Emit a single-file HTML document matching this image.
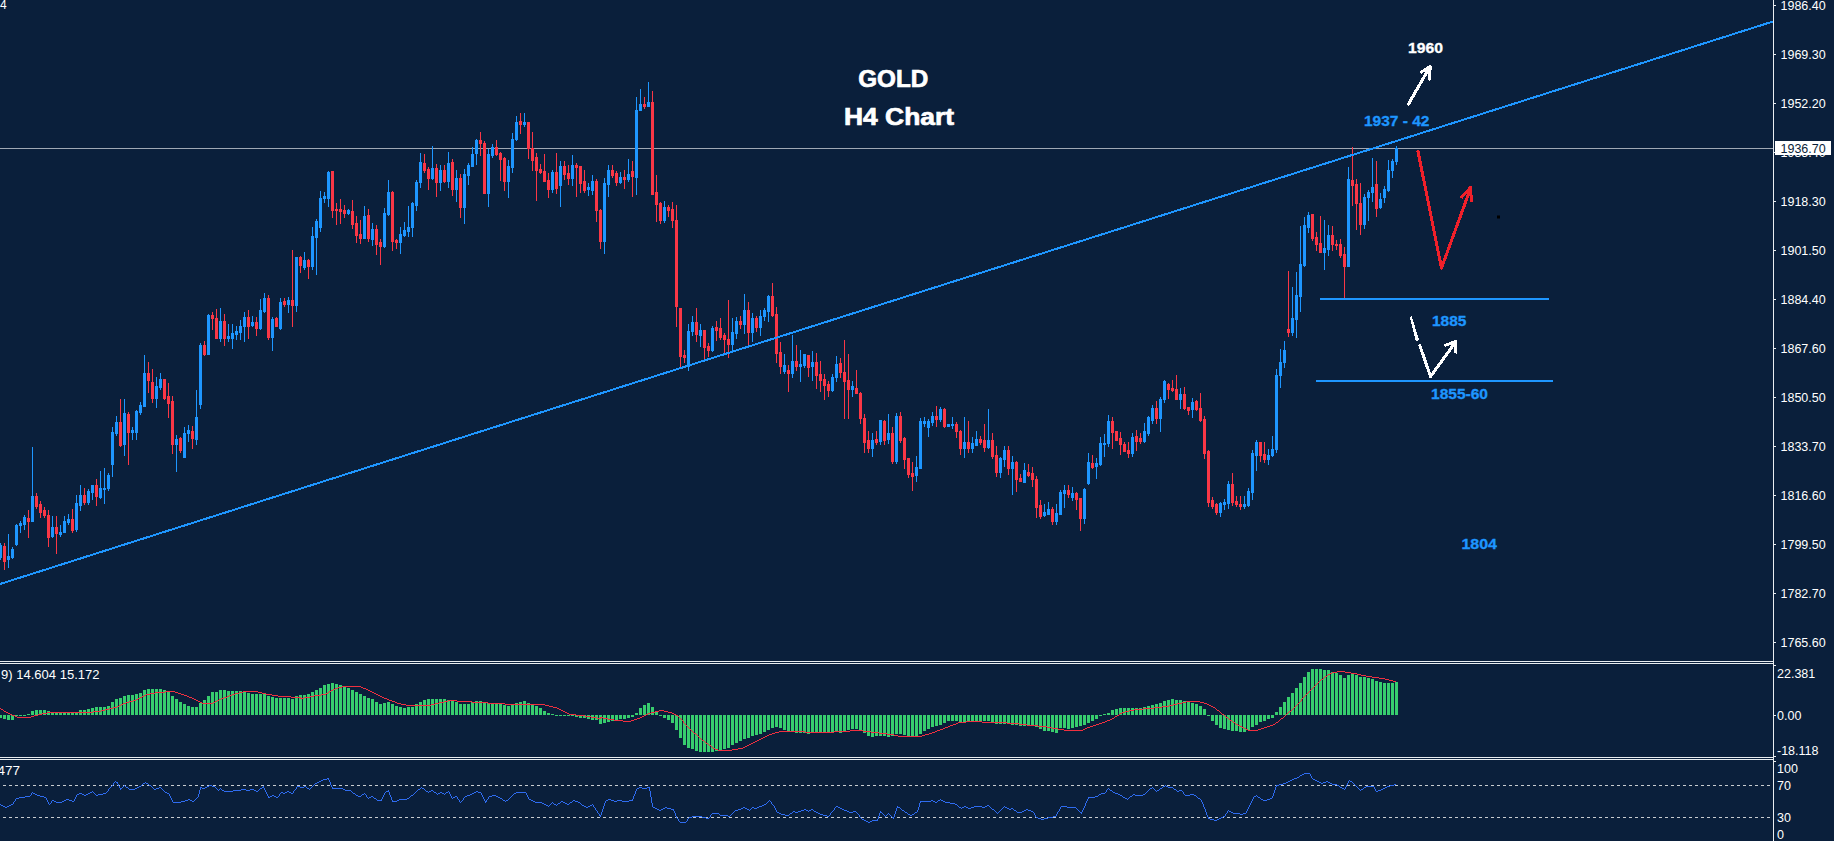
<!DOCTYPE html>
<html><head><meta charset="utf-8"><style>
html,body{margin:0;padding:0;background:#0a1f3b;width:1834px;height:841px;overflow:hidden}
svg{display:block}
text{font-family:"Liberation Sans",sans-serif}
</style></head><body>
<svg width="1834" height="841" viewBox="0 0 1834 841">
<rect width="1834" height="841" fill="#0a1f3b"/>

<rect x="0" y="148" width="1773" height="1" fill="#a0a8b4"/>
<path shape-rendering="crispEdges" fill="#1e96ff" d="M0 543h1v17h-1zM-1 545h3v13h-3zM8 534h1v34h-1zM7 556h3v4h-3zM12 547h1v12h-1zM11 549h3v9h-3zM16 524h1v22h-1zM15 525h3v20h-3zM20 521h1v12h-1zM19 523h3v3h-3zM24 515h1v15h-1zM23 517h3v8h-3zM32 447h1v75h-1zM31 496h3v26h-3zM52 516h1v22h-1zM51 527h3v10h-3zM60 525h1v12h-1zM59 532h3v3h-3zM64 516h1v17h-1zM63 521h3v12h-3zM68 514h1v11h-1zM67 519h3v4h-3zM76 495h1v37h-1zM75 503h3v27h-3zM80 485h1v26h-1zM79 495h3v11h-3zM88 489h1v16h-1zM87 491h3v12h-3zM92 485h1v15h-1zM91 485h3v8h-3zM100 471h1v28h-1zM99 488h3v10h-3zM104 468h1v36h-1zM103 488h3v2h-3zM108 473h1v18h-1zM107 475h3v14h-3zM112 427h1v50h-1zM111 432h3v33h-3zM116 416h1v20h-1zM115 422h3v12h-3zM124 399h1v57h-1zM123 413h3v32h-3zM132 427h1v13h-1zM131 430h3v3h-3zM136 410h1v30h-1zM135 411h3v22h-3zM140 402h1v13h-1zM139 405h3v8h-3zM144 355h1v52h-1zM143 373h3v34h-3zM156 377h1v31h-1zM155 386h3v13h-3zM160 373h1v17h-1zM159 379h3v9h-3zM176 435h1v37h-1zM175 439h3v6h-3zM184 427h1v31h-1zM183 433h3v25h-3zM188 425h1v17h-1zM187 430h3v4h-3zM196 390h1v55h-1zM195 417h3v23h-3zM200 343h1v66h-1zM199 345h3v60h-3zM208 314h1v41h-1zM207 315h3v40h-3zM220 308h1v34h-1zM219 321h3v18h-3zM228 324h1v18h-1zM227 336h3v3h-3zM232 324h1v25h-1zM231 333h3v6h-3zM236 326h1v14h-1zM235 331h3v4h-3zM240 320h1v20h-1zM239 326h3v7h-3zM244 312h1v30h-1zM243 317h3v10h-3zM252 316h1v11h-1zM251 322h3v4h-3zM260 299h1v31h-1zM259 310h3v19h-3zM264 293h1v20h-1zM263 298h3v14h-3zM272 317h1v34h-1zM271 319h3v19h-3zM280 298h1v32h-1zM279 302h3v27h-3zM288 297h1v16h-1zM287 300h3v5h-3zM296 257h1v55h-1zM295 257h3v49h-3zM304 252h1v18h-1zM303 260h3v8h-3zM312 227h1v43h-1zM311 236h3v31h-3zM316 219h1v56h-1zM315 221h3v17h-3zM320 191h1v41h-1zM319 198h3v30h-3zM324 192h1v11h-1zM323 196h3v3h-3zM328 171h1v36h-1zM327 172h3v27h-3zM348 209h1v6h-1zM347 210h3v4h-3zM364 206h1v33h-1zM363 216h3v23h-3zM372 223h1v23h-1zM371 229h3v11h-3zM384 208h1v40h-1zM383 213h3v34h-3zM388 180h1v36h-1zM387 192h3v23h-3zM400 227h1v27h-1zM399 234h3v9h-3zM404 222h1v15h-1zM403 230h3v6h-3zM408 206h1v31h-1zM407 227h3v5h-3zM412 202h1v35h-1zM411 203h3v25h-3zM416 180h1v31h-1zM415 182h3v24h-3zM420 153h1v35h-1zM419 162h3v21h-3zM432 146h1v34h-1zM431 168h3v11h-3zM440 165h1v26h-1zM439 170h3v13h-3zM448 152h1v36h-1zM447 163h3v19h-3zM456 170h1v32h-1zM455 178h3v12h-3zM464 169h1v55h-1zM463 174h3v34h-3zM468 163h1v22h-1zM467 165h3v11h-3zM472 147h1v20h-1zM471 154h3v13h-3zM476 139h1v26h-1zM475 140h3v14h-3zM488 149h1v58h-1zM487 154h3v40h-3zM492 144h1v14h-1zM491 147h3v9h-3zM508 160h1v38h-1zM507 166h3v16h-3zM512 133h1v40h-1zM511 139h3v29h-3zM516 116h1v25h-1zM515 122h3v18h-3zM524 113h1v14h-1zM523 122h3v3h-3zM552 170h1v23h-1zM551 172h3v18h-3zM560 161h1v46h-1zM559 166h3v20h-3zM572 155h1v31h-1zM571 165h3v14h-3zM588 183h1v13h-1zM587 187h3v3h-3zM592 175h1v20h-1zM591 181h3v10h-3zM604 178h1v76h-1zM603 183h3v59h-3zM608 165h1v32h-1zM607 170h3v15h-3zM620 172h1v12h-1zM619 177h3v6h-3zM628 159h1v23h-1zM627 174h3v6h-3zM636 97h1v98h-1zM635 110h3v68h-3zM640 89h1v22h-1zM639 104h3v7h-3zM648 82h1v25h-1zM647 102h3v5h-3zM664 201h1v22h-1zM663 207h3v14h-3zM688 324h1v47h-1zM687 331h3v36h-3zM692 316h1v20h-1zM691 322h3v10h-3zM700 324h1v23h-1zM699 330h3v6h-3zM712 326h1v26h-1zM711 328h3v23h-3zM732 318h1v33h-1zM731 332h3v13h-3zM736 317h1v22h-1zM735 321h3v13h-3zM744 294h1v40h-1zM743 310h3v15h-3zM752 313h1v29h-1zM751 318h3v15h-3zM760 310h1v26h-1zM759 316h3v12h-3zM764 308h1v13h-1zM763 310h3v7h-3zM768 295h1v27h-1zM767 296h3v16h-3zM784 354h1v20h-1zM783 365h3v7h-3zM792 335h1v43h-1zM791 361h3v13h-3zM800 350h1v32h-1zM799 364h3v3h-3zM804 354h1v14h-1zM803 354h3v12h-3zM812 351h1v30h-1zM811 362h3v5h-3zM832 374h1v18h-1zM831 377h3v14h-3zM836 356h1v26h-1zM835 364h3v14h-3zM852 381h1v16h-1zM851 386h3v4h-3zM872 433h1v24h-1zM871 440h3v9h-3zM880 420h1v25h-1zM879 420h3v22h-3zM888 414h1v30h-1zM887 433h3v7h-3zM896 413h1v51h-1zM895 416h3v46h-3zM916 456h1v26h-1zM915 467h3v9h-3zM920 418h1v51h-1zM919 421h3v48h-3zM924 417h1v10h-1zM923 421h3v3h-3zM928 419h1v18h-1zM927 421h3v7h-3zM932 412h1v14h-1zM931 416h3v7h-3zM940 407h1v15h-1zM939 409h3v11h-3zM948 424h1v3h-1zM947 424h3v3h-3zM952 417h1v12h-1zM951 424h3v2h-3zM964 417h1v41h-1zM963 442h3v7h-3zM972 437h1v16h-1zM971 443h3v6h-3zM976 431h1v15h-1zM975 439h3v7h-3zM988 409h1v40h-1zM987 440h3v8h-3zM1000 457h1v21h-1zM999 458h3v15h-3zM1004 446h1v21h-1zM1003 450h3v10h-3zM1012 456h1v39h-1zM1011 462h3v7h-3zM1024 463h1v20h-1zM1023 470h3v13h-3zM1044 504h1v13h-1zM1043 512h3v4h-3zM1048 502h1v13h-1zM1047 509h3v6h-3zM1056 504h1v21h-1zM1055 513h3v9h-3zM1060 490h1v25h-1zM1059 492h3v23h-3zM1064 485h1v23h-1zM1063 490h3v4h-3zM1072 487h1v14h-1zM1071 493h3v5h-3zM1084 488h1v36h-1zM1083 489h3v30h-3zM1088 453h1v32h-1zM1087 462h3v22h-3zM1096 458h1v21h-1zM1095 463h3v4h-3zM1100 437h1v29h-1zM1099 443h3v22h-3zM1104 434h1v23h-1zM1103 443h3v2h-3zM1108 415h1v32h-1zM1107 421h3v23h-3zM1132 433h1v24h-1zM1131 437h3v17h-3zM1144 423h1v20h-1zM1143 431h3v11h-3zM1148 416h1v20h-1zM1147 417h3v17h-3zM1152 405h1v19h-1zM1151 408h3v13h-3zM1160 397h1v35h-1zM1159 399h3v20h-3zM1164 380h1v23h-1zM1163 381h3v19h-3zM1180 388h1v21h-1zM1179 394h3v6h-3zM1192 398h1v20h-1zM1191 402h3v8h-3zM1220 502h1v15h-1zM1219 503h3v10h-3zM1224 499h1v11h-1zM1223 502h3v3h-3zM1228 481h1v28h-1zM1227 484h3v20h-3zM1244 496h1v13h-1zM1243 504h3v3h-3zM1248 488h1v19h-1zM1247 491h3v15h-3zM1252 450h1v50h-1zM1251 453h3v40h-3zM1256 440h1v31h-1zM1255 442h3v14h-3zM1268 449h1v16h-1zM1267 455h3v5h-3zM1272 436h1v21h-1zM1271 449h3v7h-3zM1276 369h1v84h-1zM1275 375h3v75h-3zM1280 349h1v39h-1zM1279 362h3v14h-3zM1284 341h1v27h-1zM1283 350h3v13h-3zM1292 287h1v49h-1zM1291 318h3v15h-3zM1296 272h1v66h-1zM1295 295h3v25h-3zM1300 226h1v86h-1zM1299 264h3v33h-3zM1304 217h1v50h-1zM1303 225h3v41h-3zM1308 212h1v21h-1zM1307 215h3v13h-3zM1324 220h1v50h-1zM1323 248h3v5h-3zM1328 225h1v31h-1zM1327 235h3v15h-3zM1348 167h1v100h-1zM1347 179h3v88h-3zM1364 194h1v35h-1zM1363 197h3v28h-3zM1368 190h1v31h-1zM1367 192h3v6h-3zM1372 158h1v44h-1zM1371 187h3v6h-3zM1380 193h1v16h-1zM1379 199h3v9h-3zM1384 186h1v17h-1zM1383 189h3v9h-3zM1388 160h1v32h-1zM1387 170h3v21h-3zM1392 159h1v19h-1zM1391 161h3v10h-3zM1396 146h1v19h-1zM1395 148h3v14h-3z"/>
<path shape-rendering="crispEdges" fill="#fa3746" d="M4 543h1v27h-1zM3 546h3v16h-3zM28 510h1v28h-1zM27 518h3v4h-3zM36 493h1v16h-1zM35 496h3v11h-3zM40 501h1v17h-1zM39 504h3v9h-3zM44 507h1v11h-1zM43 510h3v6h-3zM48 510h1v37h-1zM47 515h3v23h-3zM56 516h1v38h-1zM55 527h3v7h-3zM72 509h1v24h-1zM71 519h3v12h-3zM84 488h1v17h-1zM83 495h3v8h-3zM96 479h1v27h-1zM95 485h3v12h-3zM120 399h1v48h-1zM119 422h3v24h-3zM128 412h1v53h-1zM127 414h3v19h-3zM148 362h1v31h-1zM147 373h3v8h-3zM152 369h1v34h-1zM151 382h3v17h-3zM164 379h1v21h-1zM163 379h3v20h-3zM168 383h1v35h-1zM167 396h3v8h-3zM172 396h1v58h-1zM171 401h3v44h-3zM180 437h1v16h-1zM179 438h3v13h-3zM192 426h1v23h-1zM191 431h3v8h-3zM204 341h1v15h-1zM203 345h3v10h-3zM212 312h1v18h-1zM211 315h3v4h-3zM216 309h1v30h-1zM215 318h3v21h-3zM224 314h1v32h-1zM223 321h3v18h-3zM248 310h1v29h-1zM247 317h3v10h-3zM256 317h1v19h-1zM255 322h3v7h-3zM268 295h1v45h-1zM267 298h3v40h-3zM276 317h1v10h-1zM275 318h3v9h-3zM284 298h1v9h-1zM283 301h3v4h-3zM292 250h1v77h-1zM291 300h3v6h-3zM300 256h1v17h-1zM299 257h3v9h-3zM308 259h1v20h-1zM307 260h3v7h-3zM332 171h1v47h-1zM331 171h3v40h-3zM336 203h1v22h-1zM335 209h3v2h-3zM340 199h1v25h-1zM339 209h3v3h-3zM344 205h1v13h-1zM343 210h3v4h-3zM352 200h1v29h-1zM351 211h3v14h-3zM356 216h1v27h-1zM355 223h3v13h-3zM360 220h1v24h-1zM359 234h3v5h-3zM368 209h1v33h-1zM367 215h3v24h-3zM376 225h1v30h-1zM375 229h3v16h-3zM380 239h1v26h-1zM379 242h3v5h-3zM392 191h1v60h-1zM391 192h3v50h-3zM396 239h1v10h-1zM395 240h3v3h-3zM424 154h1v19h-1zM423 163h3v8h-3zM428 167h1v23h-1zM427 169h3v10h-3zM436 164h1v33h-1zM435 168h3v15h-3zM444 165h1v18h-1zM443 170h3v12h-3zM452 159h1v37h-1zM451 162h3v28h-3zM460 174h1v44h-1zM459 178h3v30h-3zM480 132h1v24h-1zM479 140h3v4h-3zM484 141h1v53h-1zM483 143h3v51h-3zM496 140h1v16h-1zM495 147h3v8h-3zM500 152h1v29h-1zM499 153h3v7h-3zM504 157h1v34h-1zM503 158h3v24h-3zM520 113h1v21h-1zM519 121h3v4h-3zM528 122h1v37h-1zM527 122h3v27h-3zM532 132h1v39h-1zM531 148h3v13h-3zM536 153h1v48h-1zM535 157h3v14h-3zM540 164h1v10h-1zM539 169h3v4h-3zM544 154h1v28h-1zM543 171h3v11h-3zM548 173h1v25h-1zM547 180h3v10h-3zM556 153h1v41h-1zM555 172h3v17h-3zM564 161h1v19h-1zM563 166h3v9h-3zM568 165h1v20h-1zM567 173h3v6h-3zM576 163h1v34h-1zM575 165h3v3h-3zM580 166h1v27h-1zM579 166h3v18h-3zM584 170h1v23h-1zM583 181h3v10h-3zM596 179h1v43h-1zM595 181h3v30h-3zM600 209h1v40h-1zM599 210h3v32h-3zM612 165h1v13h-1zM611 170h3v6h-3zM616 171h1v15h-1zM615 173h3v10h-3zM624 170h1v19h-1zM623 177h3v3h-3zM632 161h1v36h-1zM631 171h3v6h-3zM644 97h1v12h-1zM643 104h3v3h-3zM652 91h1v104h-1zM651 102h3v93h-3zM656 175h1v47h-1zM655 192h3v13h-3zM660 202h1v22h-1zM659 203h3v18h-3zM668 205h1v12h-1zM667 207h3v4h-3zM672 202h1v26h-1zM671 209h3v12h-3zM676 205h1v122h-1zM675 220h3v87h-3zM680 308h1v61h-1zM679 308h3v49h-3zM684 350h1v13h-1zM683 355h3v3h-3zM696 308h1v34h-1zM695 322h3v13h-3zM704 330h1v30h-1zM703 330h3v18h-3zM708 343h1v14h-1zM707 346h3v5h-3zM716 321h1v20h-1zM715 327h3v4h-3zM720 318h1v22h-1zM719 328h3v10h-3zM724 333h1v21h-1zM723 335h3v5h-3zM728 300h1v58h-1zM727 339h3v6h-3zM740 316h1v13h-1zM739 321h3v4h-3zM748 302h1v43h-1zM747 310h3v23h-3zM756 316h1v16h-1zM755 318h3v10h-3zM772 283h1v34h-1zM771 296h3v20h-3zM776 307h1v56h-1zM775 314h3v40h-3zM780 342h1v32h-1zM779 352h3v15h-3zM788 365h1v27h-1zM787 370h3v4h-3zM796 345h1v26h-1zM795 361h3v6h-3zM808 355h1v22h-1zM807 355h3v13h-3zM816 353h1v36h-1zM815 362h3v14h-3zM820 361h1v31h-1zM819 374h3v7h-3zM824 374h1v26h-1zM823 379h3v7h-3zM828 381h1v16h-1zM827 384h3v7h-3zM840 358h1v20h-1zM839 363h3v10h-3zM844 340h1v79h-1zM843 372h3v10h-3zM848 354h1v65h-1zM847 380h3v10h-3zM856 370h1v24h-1zM855 388h3v6h-3zM860 392h1v32h-1zM859 393h3v26h-3zM864 414h1v39h-1zM863 418h3v25h-3zM868 431h1v22h-1zM867 440h3v9h-3zM876 431h1v14h-1zM875 439h3v4h-3zM884 420h1v25h-1zM883 421h3v20h-3zM892 427h1v37h-1zM891 433h3v29h-3zM900 412h1v31h-1zM899 416h3v25h-3zM904 437h1v32h-1zM903 438h3v22h-3zM908 458h1v20h-1zM907 458h3v17h-3zM912 462h1v29h-1zM911 473h3v4h-3zM936 406h1v21h-1zM935 416h3v4h-3zM944 408h1v20h-1zM943 409h3v18h-3zM956 422h1v16h-1zM955 424h3v8h-3zM960 430h1v25h-1zM959 431h3v18h-3zM968 421h1v32h-1zM967 442h3v7h-3zM980 436h1v9h-1zM979 439h3v4h-3zM984 424h1v28h-1zM983 440h3v8h-3zM992 433h1v26h-1zM991 440h3v17h-3zM996 446h1v31h-1zM995 455h3v18h-3zM1008 446h1v29h-1zM1007 450h3v19h-3zM1016 461h1v31h-1zM1015 462h3v18h-3zM1020 474h1v8h-1zM1019 478h3v4h-3zM1028 464h1v13h-1zM1027 472h3v4h-3zM1032 467h1v20h-1zM1031 473h3v7h-3zM1036 476h1v42h-1zM1035 479h3v29h-3zM1040 500h1v19h-1zM1039 505h3v12h-3zM1052 507h1v18h-1zM1051 509h3v13h-3zM1068 485h1v13h-1zM1067 490h3v5h-3zM1076 492h1v18h-1zM1075 493h3v7h-3zM1080 498h1v33h-1zM1079 498h3v21h-3zM1092 455h1v14h-1zM1091 463h3v5h-3zM1112 417h1v32h-1zM1111 421h3v12h-3zM1116 431h1v10h-1zM1115 431h3v10h-3zM1120 432h1v23h-1zM1119 438h3v7h-3zM1124 442h1v10h-1zM1123 444h3v8h-3zM1128 442h1v16h-1zM1127 450h3v4h-3zM1136 430h1v21h-1zM1135 436h3v6h-3zM1140 433h1v11h-1zM1139 438h3v4h-3zM1156 401h1v23h-1zM1155 408h3v11h-3zM1168 383h1v16h-1zM1167 384h3v6h-3zM1172 380h1v12h-1zM1171 388h3v3h-3zM1176 375h1v25h-1zM1175 389h3v11h-3zM1184 387h1v23h-1zM1183 394h3v15h-3zM1188 407h1v8h-1zM1187 407h3v4h-3zM1196 400h1v11h-1zM1195 401h3v9h-3zM1200 393h1v29h-1zM1199 408h3v13h-3zM1204 416h1v43h-1zM1203 419h3v35h-3zM1208 450h1v57h-1zM1207 451h3v52h-3zM1212 497h1v12h-1zM1211 500h3v7h-3zM1216 503h1v12h-1zM1215 504h3v9h-3zM1232 473h1v33h-1zM1231 484h3v19h-3zM1236 496h1v11h-1zM1235 501h3v4h-3zM1240 496h1v14h-1zM1239 504h3v3h-3zM1260 442h1v20h-1zM1259 442h3v14h-3zM1264 442h1v21h-1zM1263 454h3v6h-3zM1288 271h1v66h-1zM1287 329h3v4h-3zM1312 214h1v27h-1zM1311 214h3v25h-3zM1316 232h1v19h-1zM1315 237h3v8h-3zM1320 216h1v37h-1zM1319 243h3v10h-3zM1332 226h1v25h-1zM1331 235h3v10h-3zM1336 240h1v10h-1zM1335 244h3v2h-3zM1340 239h1v19h-1zM1339 244h3v12h-3zM1344 247h1v51h-1zM1343 254h3v13h-3zM1352 147h1v59h-1zM1351 180h3v6h-3zM1356 179h1v51h-1zM1355 184h3v20h-3zM1360 183h1v52h-1zM1359 203h3v22h-3zM1376 161h1v56h-1zM1375 184h3v25h-3z"/>
<line x1="0" y1="584" x2="1773" y2="21.5" stroke="#1e96ff" stroke-width="2" shape-rendering="crispEdges"/>
<rect x="1320" y="298" width="229" height="2" fill="#1e96ff"/>
<rect x="1316" y="380" width="237" height="2" fill="#1e96ff"/>
<polyline points="1418,151.5 1441.5,268 1470.5,188.5" fill="none" stroke="#f0202a" stroke-width="3" stroke-linejoin="round" stroke-linecap="round" shape-rendering="crispEdges"/>
<polyline points="1461,198 1470.5,187.5 1471.5,202" fill="none" stroke="#f0202a" stroke-width="3" stroke-linejoin="round" shape-rendering="crispEdges"/>
<rect x="1497" y="215.5" width="3" height="3" fill="#000"/>
<line x1="1408.5" y1="104" x2="1430" y2="66.5" stroke="#fff" stroke-width="3" stroke-linecap="round" shape-rendering="crispEdges"/>
<polyline points="1420.5,72.5 1430.3,66.5 1429,80.5" fill="none" stroke="#fff" stroke-width="3" stroke-linejoin="round" shape-rendering="crispEdges"/>
<polygon points="1411.6,316.3 1419.2,340.1 1415.8,341 1409.8,316.9" fill="#fff" shape-rendering="crispEdges"/>
<polyline points="1419.5,344.5 1430.5,376.5 1456,341.5" fill="none" stroke="#fff" stroke-width="3" stroke-linejoin="round" shape-rendering="crispEdges"/>
<polyline points="1444.5,345.5 1456,341.5 1455.5,353.5" fill="none" stroke="#fff" stroke-width="3" stroke-linejoin="round" shape-rendering="crispEdges"/>
<text x="858.2" y="87" font-size="23.5" font-weight="bold" fill="#fff" stroke="#fff" stroke-width="0.7" textLength="70" lengthAdjust="spacingAndGlyphs">GOLD</text>
<text x="844" y="125" font-size="23.5" font-weight="bold" fill="#fff" stroke="#fff" stroke-width="0.7" textLength="110" lengthAdjust="spacingAndGlyphs">H4 Chart</text>
<text x="1408" y="53" font-size="14" font-weight="bold" fill="#fff" stroke="#fff" stroke-width="0.3" textLength="35" lengthAdjust="spacingAndGlyphs">1960</text>
<text x="1364" y="126" font-size="14" font-weight="bold" fill="#1e96ff" stroke="#1e96ff" stroke-width="0.3" textLength="65.5" lengthAdjust="spacingAndGlyphs">1937 - 42</text>
<text x="1432" y="326" font-size="14" font-weight="bold" fill="#1e96ff" stroke="#1e96ff" stroke-width="0.3" textLength="34.5" lengthAdjust="spacingAndGlyphs">1885</text>
<text x="1431" y="399" font-size="14" font-weight="bold" fill="#1e96ff" stroke="#1e96ff" stroke-width="0.3" textLength="57" lengthAdjust="spacingAndGlyphs">1855-60</text>
<text x="1461.5" y="549" font-size="14" font-weight="bold" fill="#1e96ff" stroke="#1e96ff" stroke-width="0.3" textLength="35.5" lengthAdjust="spacingAndGlyphs">1804</text>
<text x="0" y="9" font-size="12" fill="#fff">4</text>
<path shape-rendering="crispEdges" fill="#37cd6e" d="M-1 715h3v3h-3zM3 715h3v4h-3zM7 715h3v5h-3zM11 715h3v5h-3zM15 715h3v1h-3zM19 715h3v1h-3zM23 715h3v1h-3zM27 714h3v1h-3zM31 711h3v4h-3zM35 710h3v5h-3zM39 710h3v5h-3zM43 710h3v5h-3zM47 711h3v4h-3zM51 712h3v3h-3zM55 712h3v3h-3zM59 713h3v2h-3zM63 713h3v2h-3zM67 713h3v2h-3zM71 712h3v3h-3zM75 712h3v3h-3zM79 710h3v5h-3zM83 710h3v5h-3zM87 709h3v6h-3zM91 708h3v7h-3zM95 707h3v8h-3zM99 707h3v8h-3zM103 707h3v8h-3zM107 706h3v9h-3zM111 702h3v13h-3zM115 699h3v16h-3zM119 698h3v17h-3zM123 696h3v19h-3zM127 695h3v20h-3zM131 695h3v20h-3zM135 694h3v21h-3zM139 693h3v22h-3zM143 690h3v25h-3zM147 689h3v26h-3zM151 689h3v26h-3zM155 689h3v26h-3zM159 689h3v26h-3zM163 690h3v25h-3zM167 692h3v23h-3zM171 696h3v19h-3zM175 699h3v16h-3zM179 702h3v13h-3zM183 704h3v11h-3zM187 706h3v9h-3zM191 707h3v8h-3zM195 707h3v8h-3zM199 703h3v12h-3zM203 700h3v15h-3zM207 696h3v19h-3zM211 692h3v23h-3zM215 692h3v23h-3zM219 690h3v25h-3zM223 690h3v25h-3zM227 691h3v24h-3zM231 691h3v24h-3zM235 691h3v24h-3zM239 691h3v24h-3zM243 691h3v24h-3zM247 693h3v22h-3zM251 694h3v21h-3zM255 694h3v21h-3zM259 694h3v21h-3zM263 694h3v21h-3zM267 696h3v19h-3zM271 697h3v18h-3zM275 698h3v17h-3zM279 698h3v17h-3zM283 698h3v17h-3zM287 698h3v17h-3zM291 699h3v16h-3zM295 696h3v19h-3zM299 695h3v20h-3zM303 695h3v20h-3zM307 694h3v21h-3zM311 692h3v23h-3zM315 690h3v25h-3zM319 688h3v27h-3zM323 685h3v30h-3zM327 684h3v31h-3zM331 683h3v32h-3zM335 684h3v31h-3zM339 685h3v30h-3zM343 687h3v28h-3zM347 688h3v27h-3zM351 690h3v25h-3zM355 692h3v23h-3zM359 694h3v21h-3zM363 696h3v19h-3zM367 698h3v17h-3zM371 699h3v16h-3zM375 702h3v13h-3zM379 704h3v11h-3zM383 703h3v12h-3zM387 702h3v13h-3zM391 704h3v11h-3zM395 706h3v9h-3zM399 707h3v8h-3zM403 708h3v7h-3zM407 707h3v8h-3zM411 707h3v8h-3zM415 704h3v11h-3zM419 702h3v13h-3zM423 700h3v15h-3zM427 699h3v16h-3zM431 699h3v16h-3zM435 699h3v16h-3zM439 699h3v16h-3zM443 699h3v16h-3zM447 700h3v15h-3zM451 701h3v14h-3zM455 702h3v13h-3zM459 704h3v11h-3zM463 704h3v11h-3zM467 704h3v11h-3zM471 702h3v13h-3zM475 701h3v14h-3zM479 701h3v14h-3zM483 702h3v13h-3zM487 703h3v12h-3zM491 703h3v12h-3zM495 703h3v12h-3zM499 703h3v12h-3zM503 705h3v10h-3zM507 706h3v9h-3zM511 705h3v10h-3zM515 703h3v12h-3zM519 702h3v13h-3zM523 701h3v14h-3zM527 703h3v12h-3zM531 704h3v11h-3zM535 706h3v9h-3zM539 708h3v7h-3zM543 711h3v4h-3zM547 713h3v2h-3zM551 714h3v1h-3zM555 715h3v1h-3zM559 715h3v1h-3zM563 715h3v1h-3zM567 715h3v1h-3zM571 715h3v1h-3zM575 715h3v2h-3zM579 715h3v3h-3zM583 715h3v3h-3zM587 715h3v4h-3zM591 715h3v5h-3zM595 715h3v5h-3zM599 715h3v9h-3zM603 715h3v8h-3zM607 715h3v7h-3zM611 715h3v6h-3zM615 715h3v5h-3zM619 715h3v4h-3zM623 715h3v4h-3zM627 715h3v3h-3zM631 715h3v2h-3zM635 713h3v2h-3zM639 708h3v7h-3zM643 705h3v10h-3zM647 703h3v12h-3zM651 707h3v8h-3zM655 712h3v3h-3zM659 715h3v1h-3zM663 715h3v3h-3zM667 715h3v5h-3zM671 715h3v8h-3zM675 715h3v15h-3zM679 715h3v23h-3zM683 715h3v30h-3zM687 715h3v33h-3zM691 715h3v34h-3zM695 715h3v36h-3zM699 715h3v37h-3zM703 715h3v37h-3zM707 715h3v37h-3zM711 715h3v37h-3zM715 715h3v36h-3zM719 715h3v35h-3zM723 715h3v34h-3zM727 715h3v33h-3zM731 715h3v30h-3zM735 715h3v28h-3zM739 715h3v26h-3zM743 715h3v24h-3zM747 715h3v23h-3zM751 715h3v21h-3zM755 715h3v20h-3zM759 715h3v19h-3zM763 715h3v17h-3zM767 715h3v15h-3zM771 715h3v13h-3zM775 715h3v12h-3zM779 715h3v13h-3zM783 715h3v15h-3zM787 715h3v16h-3zM791 715h3v17h-3zM795 715h3v18h-3zM799 715h3v18h-3zM803 715h3v18h-3zM807 715h3v19h-3zM811 715h3v18h-3zM815 715h3v17h-3zM819 715h3v17h-3zM823 715h3v17h-3zM827 715h3v17h-3zM831 715h3v17h-3zM835 715h3v17h-3zM839 715h3v18h-3zM843 715h3v16h-3zM847 715h3v15h-3zM851 715h3v14h-3zM855 715h3v14h-3zM859 715h3v16h-3zM863 715h3v18h-3zM867 715h3v21h-3zM871 715h3v22h-3zM875 715h3v21h-3zM879 715h3v21h-3zM883 715h3v21h-3zM887 715h3v22h-3zM891 715h3v21h-3zM895 715h3v19h-3zM899 715h3v19h-3zM903 715h3v20h-3zM907 715h3v21h-3zM911 715h3v21h-3zM915 715h3v22h-3zM919 715h3v19h-3zM923 715h3v16h-3zM927 715h3v14h-3zM931 715h3v12h-3zM935 715h3v11h-3zM939 715h3v10h-3zM943 715h3v8h-3zM947 715h3v6h-3zM951 715h3v6h-3zM955 715h3v6h-3zM959 715h3v7h-3zM963 715h3v7h-3zM967 715h3v7h-3zM971 715h3v7h-3zM975 715h3v7h-3zM979 715h3v6h-3zM983 715h3v6h-3zM987 715h3v6h-3zM991 715h3v8h-3zM995 715h3v9h-3zM999 715h3v9h-3zM1003 715h3v9h-3zM1007 715h3v9h-3zM1011 715h3v10h-3zM1015 715h3v10h-3zM1019 715h3v11h-3zM1023 715h3v11h-3zM1027 715h3v10h-3zM1031 715h3v11h-3zM1035 715h3v12h-3zM1039 715h3v14h-3zM1043 715h3v16h-3zM1047 715h3v16h-3zM1051 715h3v17h-3zM1055 715h3v18h-3zM1059 715h3v13h-3zM1063 715h3v13h-3zM1067 715h3v14h-3zM1071 715h3v13h-3zM1075 715h3v12h-3zM1079 715h3v11h-3zM1083 715h3v10h-3zM1087 715h3v8h-3zM1091 715h3v6h-3zM1095 715h3v4h-3zM1099 715h3v1h-3zM1103 714h3v1h-3zM1107 713h3v2h-3zM1111 710h3v5h-3zM1115 709h3v6h-3zM1119 708h3v7h-3zM1123 708h3v7h-3zM1127 708h3v7h-3zM1131 708h3v7h-3zM1135 708h3v7h-3zM1139 708h3v7h-3zM1143 707h3v8h-3zM1147 706h3v9h-3zM1151 705h3v10h-3zM1155 704h3v11h-3zM1159 703h3v12h-3zM1163 701h3v14h-3zM1167 700h3v15h-3zM1171 699h3v16h-3zM1175 700h3v15h-3zM1179 700h3v15h-3zM1183 701h3v14h-3zM1187 702h3v13h-3zM1191 703h3v12h-3zM1195 704h3v11h-3zM1199 706h3v9h-3zM1203 709h3v6h-3zM1207 715h3v1h-3zM1211 715h3v6h-3zM1215 715h3v10h-3zM1219 715h3v13h-3zM1223 715h3v14h-3zM1227 715h3v15h-3zM1231 715h3v16h-3zM1235 715h3v16h-3zM1239 715h3v17h-3zM1243 715h3v17h-3zM1247 715h3v15h-3zM1251 715h3v12h-3zM1255 715h3v10h-3zM1259 715h3v7h-3zM1263 715h3v6h-3zM1267 715h3v4h-3zM1271 715h3v3h-3zM1275 712h3v3h-3zM1279 707h3v8h-3zM1283 702h3v13h-3zM1287 697h3v18h-3zM1291 693h3v22h-3zM1295 688h3v27h-3zM1299 683h3v32h-3zM1303 677h3v38h-3zM1307 672h3v43h-3zM1311 669h3v46h-3zM1315 669h3v46h-3zM1319 669h3v46h-3zM1323 670h3v45h-3zM1327 670h3v45h-3zM1331 672h3v43h-3zM1335 673h3v42h-3zM1339 675h3v40h-3zM1343 678h3v37h-3zM1347 675h3v40h-3zM1351 673h3v42h-3zM1355 675h3v40h-3zM1359 677h3v38h-3zM1363 677h3v38h-3zM1367 678h3v37h-3zM1371 679h3v36h-3zM1375 681h3v34h-3zM1379 682h3v33h-3zM1383 683h3v32h-3zM1387 683h3v32h-3zM1391 683h3v32h-3zM1395 682h3v33h-3z"/>
<path fill="#f03040" shape-rendering="crispEdges" d="M119 705h2v1h-2zM406 705h25v1h-25zM545 705h4v1h-4zM1169 705h4v1h-4zM1209 705h2v1h-2zM1296 705h1v1h-1zM146 694h4v1h-4zM181 694h3v1h-3zM232 694h3v1h-3zM266 694h6v1h-6zM321 694h5v1h-5zM376 694h2v1h-2zM1306 694h1v1h-1zM692 731h1v1h-1zM779 731h26v1h-26zM834 731h16v1h-16zM863 731h8v1h-8zM935 731h2v1h-2zM3 710h1v1h-1zM101 710h4v1h-4zM561 710h2v1h-2zM659 710h5v1h-5zM1129 710h5v1h-5zM1217 710h2v1h-2zM1291 710h1v1h-1zM121 704h2v1h-2zM401 704h5v1h-5zM431 704h4v1h-4zM505 704h40v1h-40zM1173 704h4v1h-4zM1207 704h2v1h-2zM1297 704h1v1h-1zM6 712h2v1h-2zM47 712h46v1h-46zM565 712h2v1h-2zM651 712h4v1h-4zM668 712h4v1h-4zM1122 712h3v1h-3zM1220 712h1v1h-1zM1288 712h1v1h-1zM597 718h4v1h-4zM603 718h5v1h-5zM637 718h3v1h-3zM680 718h1v1h-1zM1112 718h2v1h-2zM1228 718h1v1h-1zM1281 718h2v1h-2zM689 728h1v1h-1zM943 728h2v1h-2zM1052 728h6v1h-6zM1085 728h2v1h-2zM1244 728h2v1h-2zM1261 728h3v1h-3zM1337 671h8v1h-8zM10 714h2v1h-2zM38 714h4v1h-4zM569 714h7v1h-7zM646 714h2v1h-2zM674 714h2v1h-2zM1119 714h1v1h-1zM1222 714h2v1h-2zM1286 714h1v1h-1zM694 733h2v1h-2zM772 733h3v1h-3zM879 733h8v1h-8zM929 733h3v1h-3zM331 690h2v1h-2zM368 690h2v1h-2zM1310 690h1v1h-1zM133 700h3v1h-3zM196 700h2v1h-2zM217 700h2v1h-2zM389 700h3v1h-3zM448 700h9v1h-9zM1301 700h1v1h-1zM718 750h14v1h-14zM15 716h2v1h-2zM31 716h3v1h-3zM585 716h6v1h-6zM642 716h2v1h-2zM678 716h1v1h-1zM1115 716h2v1h-2zM1225 716h1v1h-1zM1284 716h1v1h-1zM113 707h4v1h-4zM553 707h4v1h-4zM1154 707h8v1h-8zM1213 707h2v1h-2zM1294 707h1v1h-1zM165 691h10v1h-10zM243 691h15v1h-15zM329 691h2v1h-2zM370 691h2v1h-2zM1309 691h1v1h-1zM123 703h3v1h-3zM202 703h11v1h-11zM397 703h4v1h-4zM435 703h4v1h-4zM488 703h17v1h-17zM1177 703h5v1h-5zM1204 703h3v1h-3zM1298 703h1v1h-1zM693 732h1v1h-1zM775 732h4v1h-4zM805 732h29v1h-29zM871 732h8v1h-8zM932 732h3v1h-3zM142 696h2v1h-2zM187 696h2v1h-2zM227 696h2v1h-2zM278 696h13v1h-13zM310 696h4v1h-4zM380 696h2v1h-2zM1304 696h1v1h-1zM698 736h1v1h-1zM765 736h2v1h-2zM898 736h24v1h-24zM1 709h2v1h-2zM105 709h4v1h-4zM559 709h2v1h-2zM1134 709h9v1h-9zM1216 709h1v1h-1zM1292 709h1v1h-1zM136 699h2v1h-2zM194 699h2v1h-2zM219 699h2v1h-2zM387 699h2v1h-2zM1301 699h1v1h-1zM129 701h4v1h-4zM198 701h2v1h-2zM215 701h2v1h-2zM392 701h3v1h-3zM444 701h4v1h-4zM457 701h15v1h-15zM1186 701h14v1h-14zM1300 701h1v1h-1zM4 711h2v1h-2zM93 711h8v1h-8zM563 711h2v1h-2zM655 711h4v1h-4zM664 711h4v1h-4zM1125 711h4v1h-4zM1219 711h1v1h-1zM1289 711h2v1h-2zM697 735h1v1h-1zM767 735h2v1h-2zM894 735h4v1h-4zM922 735h3v1h-3zM1317 683h1v1h-1zM155 692h10v1h-10zM175 692h3v1h-3zM239 692h4v1h-4zM258 692h4v1h-4zM328 692h1v1h-1zM372 692h2v1h-2zM1308 692h1v1h-1zM715 749h3v1h-3zM732 749h6v1h-6zM684 723h1v1h-1zM956 723h2v1h-2zM1007 723h12v1h-12zM1099 723h3v1h-3zM1235 723h1v1h-1zM1275 723h1v1h-1zM1324 677h1v1h-1zM1372 677h7v1h-7zM126 702h3v1h-3zM200 702h2v1h-2zM213 702h2v1h-2zM395 702h2v1h-2zM439 702h5v1h-5zM472 702h16v1h-16zM1182 702h4v1h-4zM1200 702h4v1h-4zM1299 702h1v1h-1zM686 725h1v1h-1zM950 725h3v1h-3zM1027 725h11v1h-11zM1093 725h3v1h-3zM1238 725h2v1h-2zM1270 725h3v1h-3zM623 721h8v1h-8zM683 721h1v1h-1zM966 721h16v1h-16zM1105 721h2v1h-2zM1232 721h1v1h-1zM1278 721h1v1h-1zM1328 674h2v1h-2zM1357 674h4v1h-4zM614 720h9v1h-9zM631 720h3v1h-3zM682 720h1v1h-1zM1107 720h3v1h-3zM1230 720h2v1h-2zM1279 720h1v1h-1zM683 722h1v1h-1zM958 722h8v1h-8zM982 722h25v1h-25zM1102 722h3v1h-3zM1233 722h2v1h-2zM1276 722h2v1h-2zM117 706h2v1h-2zM549 706h4v1h-4zM1162 706h7v1h-7zM1211 706h2v1h-2zM1295 706h1v1h-1zM338 687h4v1h-4zM361 687h2v1h-2zM1313 687h1v1h-1zM150 693h5v1h-5zM178 693h3v1h-3zM235 693h4v1h-4zM262 693h4v1h-4zM326 693h2v1h-2zM374 693h2v1h-2zM1307 693h1v1h-1zM690 729h1v1h-1zM940 729h3v1h-3zM1058 729h6v1h-6zM1083 729h2v1h-2zM1246 729h2v1h-2zM1258 729h3v1h-3zM335 688h3v1h-3zM363 688h3v1h-3zM1312 688h1v1h-1zM1320 680h1v1h-1zM1389 680h4v1h-4zM144 695h2v1h-2zM184 695h3v1h-3zM229 695h3v1h-3zM272 695h6v1h-6zM314 695h7v1h-7zM378 695h2v1h-2zM1305 695h1v1h-1zM140 697h2v1h-2zM189 697h3v1h-3zM224 697h3v1h-3zM291 697h10v1h-10zM304 697h6v1h-6zM382 697h2v1h-2zM1303 697h1v1h-1zM17 717h14v1h-14zM591 717h6v1h-6zM600 717h3v1h-3zM640 717h2v1h-2zM679 717h1v1h-1zM1114 717h1v1h-1zM1226 717h2v1h-2zM1283 717h1v1h-1zM688 727h1v1h-1zM945 727h3v1h-3zM1047 727h5v1h-5zM1087 727h3v1h-3zM1242 727h2v1h-2zM1264 727h3v1h-3zM709 745h2v1h-2zM747 745h2v1h-2zM691 730h1v1h-1zM850 730h13v1h-13zM937 730h3v1h-3zM1064 730h19v1h-19zM1248 730h10v1h-10zM1319 681h1v1h-1zM1393 681h3v1h-3zM696 734h1v1h-1zM769 734h3v1h-3zM887 734h7v1h-7zM925 734h4v1h-4zM1330 673h2v1h-2zM1351 673h6v1h-6zM1325 676h2v1h-2zM1366 676h6v1h-6zM685 724h1v1h-1zM953 724h3v1h-3zM1019 724h8v1h-8zM1096 724h3v1h-3zM1236 724h2v1h-2zM1273 724h2v1h-2zM8 713h2v1h-2zM42 713h5v1h-5zM567 713h2v1h-2zM648 713h3v1h-3zM672 713h2v1h-2zM1120 713h2v1h-2zM1221 713h1v1h-1zM1287 713h1v1h-1zM342 686h19v1h-19zM1314 686h1v1h-1zM1332 672h5v1h-5zM1345 672h6v1h-6zM712 747h1v1h-1zM743 747h2v1h-2zM138 698h2v1h-2zM192 698h2v1h-2zM221 698h3v1h-3zM300 698h4v1h-4zM384 698h3v1h-3zM1302 698h1v1h-1zM687 726h1v1h-1zM948 726h2v1h-2zM1038 726h9v1h-9zM1090 726h3v1h-3zM1240 726h2v1h-2zM1267 726h3v1h-3zM0 708h1v1h-1zM109 708h4v1h-4zM557 708h2v1h-2zM1143 708h11v1h-11zM1215 708h1v1h-1zM1293 708h1v1h-1zM12 715h3v1h-3zM34 715h4v1h-4zM576 715h9v1h-9zM644 715h2v1h-2zM676 715h2v1h-2zM1117 715h2v1h-2zM1224 715h1v1h-1zM1285 715h1v1h-1zM702 740h2v1h-2zM757 740h2v1h-2zM704 741h1v1h-1zM755 741h2v1h-2zM699 737h1v1h-1zM763 737h2v1h-2zM1321 679h2v1h-2zM1385 679h4v1h-4zM333 689h2v1h-2zM366 689h2v1h-2zM1311 689h1v1h-1zM608 719h6v1h-6zM634 719h3v1h-3zM681 719h1v1h-1zM1110 719h2v1h-2zM1229 719h1v1h-1zM1280 719h1v1h-1zM1315 685h1v1h-1zM1327 675h1v1h-1zM1361 675h5v1h-5zM706 743h2v1h-2zM751 743h2v1h-2zM701 739h1v1h-1zM759 739h2v1h-2zM711 746h1v1h-1zM745 746h2v1h-2zM705 742h1v1h-1zM753 742h2v1h-2zM713 748h2v1h-2zM738 748h5v1h-5zM700 738h1v1h-1zM761 738h2v1h-2zM708 744h1v1h-1zM749 744h2v1h-2zM1323 678h1v1h-1zM1379 678h6v1h-6zM1318 682h1v1h-1zM1316 684h1v1h-1z"/>
<text x="1" y="679" font-size="12" fill="#fff" textLength="98.5" lengthAdjust="spacingAndGlyphs">9) 14.604 15.172</text>
<line x1="0" y1="785.5" x2="1773" y2="785.5" stroke="#c8ccd0" stroke-width="1" stroke-dasharray="3,3" stroke-dashoffset="3" shape-rendering="crispEdges"/>
<line x1="0" y1="817.5" x2="1773" y2="817.5" stroke="#c8ccd0" stroke-width="1" stroke-dasharray="3,3" stroke-dashoffset="3" shape-rendering="crispEdges"/>
<path fill="#2f6cf0" shape-rendering="crispEdges" d="M32 792h1v1h-1zM90 792h2v1h-2zM93 792h1v1h-1zM106 792h1v1h-1zM165 792h2v1h-2zM199 792h1v1h-1zM266 792h1v1h-1zM281 792h2v1h-2zM285 792h2v1h-2zM289 792h2v1h-2zM293 792h1v1h-1zM352 792h1v1h-1zM385 792h1v1h-1zM389 792h1v1h-1zM415 792h1v1h-1zM428 792h1v1h-1zM434 792h2v1h-2zM440 792h2v1h-2zM446 792h2v1h-2zM449 792h1v1h-1zM474 792h2v1h-2zM478 792h3v1h-3zM516 792h10v1h-10zM635 792h1v1h-1zM650 792h1v1h-1zM1105 792h1v1h-1zM1113 792h2v1h-2zM1146 792h1v1h-1zM1183 792h1v1h-1zM1274 792h1v1h-1zM30 795h1v1h-1zM37 795h3v1h-3zM76 795h1v1h-1zM84 795h2v1h-2zM96 795h2v1h-2zM169 795h1v1h-1zM198 795h1v1h-1zM267 795h1v1h-1zM272 795h2v1h-2zM279 795h1v1h-1zM356 795h2v1h-2zM361 795h1v1h-1zM366 795h1v1h-1zM383 795h1v1h-1zM390 795h1v1h-1zM411 795h2v1h-2zM450 795h1v1h-1zM467 795h3v1h-3zM482 795h1v1h-1zM492 795h4v1h-4zM512 795h1v1h-1zM527 795h1v1h-1zM634 795h1v1h-1zM650 795h1v1h-1zM1098 795h1v1h-1zM1120 795h2v1h-2zM1132 795h1v1h-1zM1135 795h8v1h-8zM1185 795h5v1h-5zM1194 795h2v1h-2zM1256 795h1v1h-1zM1273 795h1v1h-1zM15 800h1v1h-1zM47 800h1v1h-1zM52 800h2v1h-2zM64 800h2v1h-2zM69 800h3v1h-3zM74 800h1v1h-1zM172 800h1v1h-1zM185 800h3v1h-3zM190 800h2v1h-2zM194 800h1v1h-1zM377 800h5v1h-5zM392 800h1v1h-1zM397 800h2v1h-2zM459 800h1v1h-1zM462 800h1v1h-1zM484 800h1v1h-1zM486 800h1v1h-1zM503 800h2v1h-2zM506 800h2v1h-2zM531 800h2v1h-2zM573 800h2v1h-2zM606 800h2v1h-2zM611 800h3v1h-3zM617 800h5v1h-5zM629 800h4v1h-4zM651 800h1v1h-1zM769 800h1v1h-1zM931 800h2v1h-2zM938 800h2v1h-2zM941 800h2v1h-2zM1087 800h1v1h-1zM1201 800h1v1h-1zM1252 800h1v1h-1zM1263 800h4v1h-4zM111 786h1v1h-1zM119 786h1v1h-1zM123 786h1v1h-1zM125 786h1v1h-1zM139 786h2v1h-2zM151 786h1v1h-1zM207 786h2v1h-2zM212 786h3v1h-3zM263 786h1v1h-1zM297 786h3v1h-3zM304 786h2v1h-2zM312 786h1v1h-1zM331 786h1v1h-1zM1163 786h2v1h-2zM1166 786h2v1h-2zM1276 786h1v1h-1zM1339 786h1v1h-1zM1346 786h1v1h-1zM1356 786h1v1h-1zM1366 786h8v1h-8zM1387 786h3v1h-3zM13 802h1v1h-1zM48 802h1v1h-1zM51 802h1v1h-1zM56 802h6v1h-6zM173 802h8v1h-8zM460 802h1v1h-1zM485 802h1v1h-1zM535 802h7v1h-7zM552 802h1v1h-1zM560 802h1v1h-1zM563 802h2v1h-2zM570 802h2v1h-2zM578 802h2v1h-2zM605 802h1v1h-1zM651 802h1v1h-1zM767 802h1v1h-1zM771 802h1v1h-1zM920 802h1v1h-1zM935 802h2v1h-2zM945 802h5v1h-5zM1086 802h1v1h-1zM1202 802h1v1h-1zM1251 802h1v1h-1zM595 808h1v1h-1zM603 808h1v1h-1zM655 808h2v1h-2zM663 808h2v1h-2zM667 808h4v1h-4zM741 808h2v1h-2zM745 808h2v1h-2zM751 808h1v1h-1zM754 808h3v1h-3zM775 808h1v1h-1zM834 808h1v1h-1zM840 808h2v1h-2zM896 808h1v1h-1zM900 808h1v1h-1zM918 808h1v1h-1zM961 808h1v1h-1zM968 808h3v1h-3zM991 808h1v1h-1zM1002 808h1v1h-1zM1007 808h2v1h-2zM1011 808h2v1h-2zM1060 808h1v1h-1zM1076 808h1v1h-1zM1083 808h1v1h-1zM1204 808h1v1h-1zM1248 808h1v1h-1zM16 798h3v1h-3zM46 798h1v1h-1zM75 798h1v1h-1zM171 798h1v1h-1zM196 798h1v1h-1zM368 798h1v1h-1zM374 798h2v1h-2zM382 798h1v1h-1zM391 798h1v1h-1zM407 798h2v1h-2zM452 798h1v1h-1zM457 798h1v1h-1zM463 798h1v1h-1zM483 798h1v1h-1zM488 798h1v1h-1zM500 798h2v1h-2zM509 798h1v1h-1zM528 798h1v1h-1zM633 798h1v1h-1zM651 798h1v1h-1zM1088 798h1v1h-1zM1125 798h2v1h-2zM1128 798h1v1h-1zM1198 798h2v1h-2zM1253 798h1v1h-1zM1260 798h1v1h-1zM1270 798h2v1h-2zM14 801h1v1h-1zM47 801h1v1h-1zM51 801h1v1h-1zM54 801h2v1h-2zM62 801h2v1h-2zM72 801h2v1h-2zM172 801h1v1h-1zM181 801h4v1h-4zM192 801h2v1h-2zM392 801h5v1h-5zM459 801h1v1h-1zM461 801h1v1h-1zM485 801h2v1h-2zM505 801h1v1h-1zM533 801h2v1h-2zM561 801h2v1h-2zM572 801h1v1h-1zM575 801h3v1h-3zM605 801h1v1h-1zM614 801h3v1h-3zM622 801h7v1h-7zM651 801h1v1h-1zM768 801h1v1h-1zM770 801h1v1h-1zM920 801h11v1h-11zM933 801h2v1h-2zM937 801h1v1h-1zM943 801h2v1h-2zM1086 801h1v1h-1zM1201 801h1v1h-1zM1251 801h1v1h-1zM1 805h2v1h-2zM9 805h2v1h-2zM546 805h2v1h-2zM549 805h1v1h-1zM556 805h1v1h-1zM582 805h2v1h-2zM590 805h2v1h-2zM593 805h1v1h-1zM604 805h1v1h-1zM652 805h1v1h-1zM762 805h2v1h-2zM773 805h1v1h-1zM919 805h1v1h-1zM957 805h1v1h-1zM987 805h2v1h-2zM1085 805h1v1h-1zM1203 805h1v1h-1zM1249 805h1v1h-1zM596 810h1v1h-1zM602 810h1v1h-1zM659 810h2v1h-2zM673 810h1v1h-1zM735 810h3v1h-3zM749 810h1v1h-1zM776 810h1v1h-1zM801 810h3v1h-3zM806 810h2v1h-2zM809 810h2v1h-2zM813 810h1v1h-1zM833 810h1v1h-1zM844 810h3v1h-3zM896 810h1v1h-1zM902 810h2v1h-2zM917 810h1v1h-1zM994 810h1v1h-1zM1000 810h1v1h-1zM1014 810h2v1h-2zM1024 810h2v1h-2zM1028 810h3v1h-3zM1059 810h1v1h-1zM1078 810h1v1h-1zM1082 810h1v1h-1zM1205 810h1v1h-1zM1228 810h1v1h-1zM1247 810h1v1h-1zM31 794h1v1h-1zM35 794h2v1h-2zM77 794h2v1h-2zM82 794h2v1h-2zM86 794h2v1h-2zM95 794h1v1h-1zM98 794h5v1h-5zM169 794h1v1h-1zM198 794h1v1h-1zM267 794h1v1h-1zM279 794h1v1h-1zM355 794h1v1h-1zM362 794h2v1h-2zM365 794h1v1h-1zM384 794h1v1h-1zM389 794h1v1h-1zM413 794h1v1h-1zM437 794h1v1h-1zM444 794h1v1h-1zM450 794h1v1h-1zM470 794h2v1h-2zM481 794h1v1h-1zM513 794h1v1h-1zM526 794h1v1h-1zM634 794h1v1h-1zM650 794h1v1h-1zM1099 794h2v1h-2zM1118 794h2v1h-2zM1133 794h2v1h-2zM1143 794h2v1h-2zM1184 794h1v1h-1zM1190 794h4v1h-4zM1273 794h1v1h-1zM323 779h4v1h-4zM328 779h1v1h-1zM1292 779h2v1h-2zM1313 779h2v1h-2zM1299 776h1v1h-1zM1311 776h1v1h-1zM676 817h1v1h-1zM689 817h3v1h-3zM702 817h4v1h-4zM709 817h1v1h-1zM860 817h1v1h-1zM878 817h1v1h-1zM892 817h2v1h-2zM1036 817h2v1h-2zM1048 817h5v1h-5zM1208 817h1v1h-1zM1221 817h2v1h-2zM115 781h1v1h-1zM319 781h2v1h-2zM329 781h1v1h-1zM1288 781h2v1h-2zM1317 781h2v1h-2zM1326 781h2v1h-2zM1348 781h1v1h-1zM1350 781h2v1h-2zM597 812h1v1h-1zM601 812h1v1h-1zM674 812h1v1h-1zM733 812h1v1h-1zM777 812h2v1h-2zM792 812h1v1h-1zM795 812h3v1h-3zM816 812h2v1h-2zM831 812h1v1h-1zM849 812h4v1h-4zM856 812h1v1h-1zM880 812h2v1h-2zM895 812h1v1h-1zM905 812h2v1h-2zM915 812h2v1h-2zM996 812h1v1h-1zM998 812h1v1h-1zM1017 812h5v1h-5zM1033 812h1v1h-1zM1057 812h1v1h-1zM1080 812h2v1h-2zM1206 812h1v1h-1zM1227 812h1v1h-1zM1231 812h2v1h-2zM1246 812h1v1h-1zM677 818h1v1h-1zM688 818h1v1h-1zM706 818h3v1h-3zM861 818h1v1h-1zM878 818h1v1h-1zM893 818h1v1h-1zM1038 818h3v1h-3zM1044 818h4v1h-4zM1208 818h2v1h-2zM1219 818h2v1h-2zM678 820h1v1h-1zM687 820h1v1h-1zM864 820h2v1h-2zM872 820h6v1h-6zM1214 820h3v1h-3zM3 806h2v1h-2zM7 806h2v1h-2zM548 806h1v1h-1zM584 806h2v1h-2zM588 806h2v1h-2zM593 806h1v1h-1zM603 806h1v1h-1zM652 806h1v1h-1zM759 806h3v1h-3zM774 806h1v1h-1zM836 806h2v1h-2zM897 806h1v1h-1zM919 806h1v1h-1zM958 806h1v1h-1zM964 806h2v1h-2zM974 806h8v1h-8zM985 806h2v1h-2zM989 806h1v1h-1zM1004 806h1v1h-1zM1061 806h6v1h-6zM1084 806h1v1h-1zM1203 806h1v1h-1zM1249 806h1v1h-1zM13 803h1v1h-1zM48 803h1v1h-1zM50 803h1v1h-1zM542 803h2v1h-2zM551 803h1v1h-1zM553 803h1v1h-1zM558 803h2v1h-2zM565 803h2v1h-2zM569 803h1v1h-1zM580 803h1v1h-1zM604 803h1v1h-1zM652 803h1v1h-1zM766 803h1v1h-1zM771 803h1v1h-1zM919 803h1v1h-1zM950 803h5v1h-5zM1085 803h1v1h-1zM1202 803h1v1h-1zM1250 803h1v1h-1zM108 790h1v1h-1zM163 790h1v1h-1zM199 790h1v1h-1zM218 790h1v1h-1zM222 790h2v1h-2zM233 790h8v1h-8zM246 790h4v1h-4zM254 790h2v1h-2zM258 790h1v1h-1zM265 790h1v1h-1zM294 790h1v1h-1zM345 790h6v1h-6zM388 790h1v1h-1zM417 790h1v1h-1zM425 790h1v1h-1zM431 790h2v1h-2zM636 790h1v1h-1zM649 790h1v1h-1zM1106 790h1v1h-1zM1110 790h2v1h-2zM1148 790h1v1h-1zM1155 790h1v1h-1zM1157 790h2v1h-2zM1176 790h1v1h-1zM1179 790h3v1h-3zM1274 790h1v1h-1zM1360 790h1v1h-1zM1375 790h1v1h-1zM1378 790h3v1h-3zM25 796h5v1h-5zM40 796h4v1h-4zM76 796h1v1h-1zM170 796h1v1h-1zM198 796h1v1h-1zM268 796h1v1h-1zM270 796h2v1h-2zM274 796h2v1h-2zM278 796h1v1h-1zM358 796h3v1h-3zM366 796h1v1h-1zM371 796h2v1h-2zM383 796h1v1h-1zM390 796h1v1h-1zM410 796h1v1h-1zM451 796h1v1h-1zM455 796h2v1h-2zM465 796h2v1h-2zM482 796h1v1h-1zM489 796h3v1h-3zM496 796h2v1h-2zM511 796h1v1h-1zM527 796h1v1h-1zM633 796h1v1h-1zM650 796h1v1h-1zM1095 796h3v1h-3zM1122 796h1v1h-1zM1130 796h2v1h-2zM1196 796h1v1h-1zM1254 796h2v1h-2zM1257 796h1v1h-1zM1272 796h1v1h-1zM19 797h6v1h-6zM44 797h2v1h-2zM75 797h1v1h-1zM170 797h1v1h-1zM197 797h1v1h-1zM268 797h2v1h-2zM276 797h2v1h-2zM367 797h1v1h-1zM369 797h2v1h-2zM373 797h1v1h-1zM382 797h1v1h-1zM391 797h1v1h-1zM409 797h1v1h-1zM451 797h1v1h-1zM453 797h2v1h-2zM457 797h1v1h-1zM464 797h1v1h-1zM483 797h1v1h-1zM488 797h1v1h-1zM498 797h2v1h-2zM510 797h1v1h-1zM528 797h1v1h-1zM633 797h1v1h-1zM651 797h1v1h-1zM1088 797h7v1h-7zM1123 797h2v1h-2zM1129 797h1v1h-1zM1197 797h1v1h-1zM1253 797h1v1h-1zM1258 797h2v1h-2zM1272 797h1v1h-1zM15 799h1v1h-1zM46 799h1v1h-1zM66 799h3v1h-3zM74 799h1v1h-1zM171 799h1v1h-1zM188 799h2v1h-2zM195 799h1v1h-1zM376 799h1v1h-1zM381 799h1v1h-1zM391 799h1v1h-1zM399 799h8v1h-8zM458 799h1v1h-1zM463 799h1v1h-1zM484 799h1v1h-1zM487 799h1v1h-1zM502 799h1v1h-1zM508 799h1v1h-1zM529 799h2v1h-2zM608 799h3v1h-3zM632 799h1v1h-1zM651 799h1v1h-1zM940 799h1v1h-1zM1087 799h1v1h-1zM1127 799h1v1h-1zM1200 799h1v1h-1zM1252 799h1v1h-1zM1261 799h2v1h-2zM1267 799h3v1h-3zM31 793h1v1h-1zM33 793h2v1h-2zM79 793h3v1h-3zM88 793h2v1h-2zM94 793h1v1h-1zM103 793h3v1h-3zM167 793h2v1h-2zM199 793h1v1h-1zM266 793h1v1h-1zM280 793h1v1h-1zM283 793h2v1h-2zM291 793h2v1h-2zM353 793h2v1h-2zM364 793h1v1h-1zM384 793h1v1h-1zM389 793h1v1h-1zM414 793h1v1h-1zM436 793h1v1h-1zM438 793h2v1h-2zM442 793h2v1h-2zM445 793h1v1h-1zM449 793h1v1h-1zM472 793h2v1h-2zM481 793h1v1h-1zM514 793h2v1h-2zM526 793h1v1h-1zM635 793h1v1h-1zM650 793h1v1h-1zM1101 793h4v1h-4zM1115 793h3v1h-3zM1145 793h1v1h-1zM1183 793h1v1h-1zM1273 793h1v1h-1zM599 815h2v1h-2zM675 815h1v1h-1zM710 815h1v1h-1zM720 815h8v1h-8zM730 815h1v1h-1zM785 815h4v1h-4zM823 815h4v1h-4zM829 815h1v1h-1zM859 815h1v1h-1zM879 815h1v1h-1zM884 815h1v1h-1zM886 815h1v1h-1zM890 815h1v1h-1zM894 815h1v1h-1zM910 815h2v1h-2zM1035 815h1v1h-1zM1056 815h1v1h-1zM1207 815h1v1h-1zM1225 815h1v1h-1zM109 788h1v1h-1zM120 788h2v1h-2zM128 788h1v1h-1zM135 788h2v1h-2zM153 788h1v1h-1zM156 788h3v1h-3zM161 788h1v1h-1zM200 788h1v1h-1zM202 788h3v1h-3zM216 788h1v1h-1zM220 788h1v1h-1zM260 788h2v1h-2zM264 788h1v1h-1zM296 788h1v1h-1zM307 788h2v1h-2zM310 788h1v1h-1zM332 788h11v1h-11zM420 788h1v1h-1zM422 788h2v1h-2zM637 788h2v1h-2zM642 788h5v1h-5zM649 788h1v1h-1zM1108 788h1v1h-1zM1150 788h2v1h-2zM1153 788h1v1h-1zM1160 788h2v1h-2zM1173 788h1v1h-1zM1275 788h1v1h-1zM1342 788h2v1h-2zM1345 788h1v1h-1zM1358 788h1v1h-1zM1363 788h1v1h-1zM1374 788h1v1h-1zM1383 788h2v1h-2zM5 807h2v1h-2zM586 807h2v1h-2zM594 807h1v1h-1zM603 807h1v1h-1zM653 807h2v1h-2zM665 807h2v1h-2zM743 807h2v1h-2zM752 807h2v1h-2zM757 807h2v1h-2zM774 807h1v1h-1zM835 807h1v1h-1zM838 807h2v1h-2zM897 807h3v1h-3zM918 807h1v1h-1zM959 807h2v1h-2zM962 807h2v1h-2zM966 807h2v1h-2zM971 807h3v1h-3zM982 807h3v1h-3zM990 807h1v1h-1zM1003 807h1v1h-1zM1005 807h2v1h-2zM1060 807h1v1h-1zM1067 807h9v1h-9zM1084 807h1v1h-1zM1204 807h1v1h-1zM1248 807h1v1h-1zM113 784h1v1h-1zM118 784h1v1h-1zM142 784h1v1h-1zM148 784h1v1h-1zM314 784h1v1h-1zM330 784h1v1h-1zM1279 784h4v1h-4zM1332 784h5v1h-5zM1347 784h1v1h-1zM1354 784h1v1h-1zM1394 784h2v1h-2zM595 809h1v1h-1zM602 809h1v1h-1zM657 809h2v1h-2zM661 809h2v1h-2zM671 809h3v1h-3zM738 809h3v1h-3zM747 809h2v1h-2zM750 809h1v1h-1zM775 809h1v1h-1zM804 809h2v1h-2zM811 809h2v1h-2zM834 809h1v1h-1zM842 809h2v1h-2zM896 809h1v1h-1zM901 809h1v1h-1zM918 809h1v1h-1zM992 809h2v1h-2zM1001 809h1v1h-1zM1009 809h2v1h-2zM1013 809h1v1h-1zM1026 809h2v1h-2zM1059 809h1v1h-1zM1077 809h1v1h-1zM1083 809h1v1h-1zM1205 809h1v1h-1zM1247 809h1v1h-1zM113 783h1v1h-1zM117 783h1v1h-1zM143 783h2v1h-2zM146 783h2v1h-2zM315 783h2v1h-2zM330 783h1v1h-1zM1283 783h3v1h-3zM1321 783h2v1h-2zM1330 783h2v1h-2zM1347 783h1v1h-1zM1353 783h1v1h-1zM108 789h1v1h-1zM120 789h1v1h-1zM129 789h6v1h-6zM154 789h2v1h-2zM162 789h1v1h-1zM200 789h1v1h-1zM217 789h1v1h-1zM219 789h1v1h-1zM221 789h1v1h-1zM241 789h5v1h-5zM250 789h4v1h-4zM259 789h1v1h-1zM264 789h1v1h-1zM295 789h1v1h-1zM309 789h1v1h-1zM343 789h2v1h-2zM418 789h2v1h-2zM424 789h1v1h-1zM636 789h1v1h-1zM649 789h1v1h-1zM1107 789h1v1h-1zM1109 789h1v1h-1zM1149 789h1v1h-1zM1154 789h1v1h-1zM1159 789h1v1h-1zM1174 789h2v1h-2zM1275 789h1v1h-1zM1344 789h1v1h-1zM1359 789h1v1h-1zM1361 789h2v1h-2zM1375 789h1v1h-1zM1381 789h2v1h-2zM0 804h1v1h-1zM11 804h2v1h-2zM49 804h1v1h-1zM544 804h2v1h-2zM550 804h1v1h-1zM554 804h2v1h-2zM557 804h1v1h-1zM567 804h2v1h-2zM581 804h1v1h-1zM592 804h1v1h-1zM604 804h1v1h-1zM652 804h1v1h-1zM764 804h2v1h-2zM772 804h1v1h-1zM919 804h1v1h-1zM955 804h2v1h-2zM1085 804h1v1h-1zM1203 804h1v1h-1zM1250 804h1v1h-1zM600 816h1v1h-1zM676 816h1v1h-1zM692 816h10v1h-10zM710 816h1v1h-1zM728 816h2v1h-2zM827 816h2v1h-2zM859 816h1v1h-1zM878 816h1v1h-1zM885 816h1v1h-1zM891 816h1v1h-1zM894 816h1v1h-1zM1035 816h1v1h-1zM1053 816h3v1h-3zM1207 816h1v1h-1zM1223 816h2v1h-2zM1302 774h2v1h-2zM1310 774h1v1h-1zM112 785h1v1h-1zM118 785h1v1h-1zM124 785h1v1h-1zM141 785h1v1h-1zM149 785h2v1h-2zM209 785h3v1h-3zM313 785h1v1h-1zM331 785h1v1h-1zM1165 785h1v1h-1zM1276 785h3v1h-3zM1337 785h2v1h-2zM1346 785h1v1h-1zM1355 785h1v1h-1zM1390 785h4v1h-4zM678 819h1v1h-1zM687 819h1v1h-1zM862 819h2v1h-2zM877 819h1v1h-1zM1041 819h3v1h-3zM1210 819h4v1h-4zM1217 819h2v1h-2zM599 814h1v1h-1zM601 814h1v1h-1zM675 814h1v1h-1zM711 814h1v1h-1zM719 814h1v1h-1zM731 814h1v1h-1zM781 814h4v1h-4zM789 814h1v1h-1zM820 814h3v1h-3zM830 814h1v1h-1zM858 814h1v1h-1zM879 814h1v1h-1zM883 814h1v1h-1zM887 814h1v1h-1zM889 814h1v1h-1zM894 814h1v1h-1zM908 814h2v1h-2zM912 814h2v1h-2zM1034 814h1v1h-1zM1056 814h1v1h-1zM1206 814h1v1h-1zM1225 814h1v1h-1zM1240 814h3v1h-3zM114 782h1v1h-1zM116 782h2v1h-2zM145 782h1v1h-1zM317 782h2v1h-2zM330 782h1v1h-1zM1286 782h2v1h-2zM1319 782h2v1h-2zM1323 782h3v1h-3zM1328 782h2v1h-2zM1348 782h1v1h-1zM1352 782h1v1h-1zM92 791h1v1h-1zM107 791h1v1h-1zM164 791h1v1h-1zM199 791h1v1h-1zM224 791h9v1h-9zM256 791h2v1h-2zM265 791h1v1h-1zM287 791h2v1h-2zM293 791h1v1h-1zM351 791h1v1h-1zM386 791h3v1h-3zM416 791h1v1h-1zM426 791h2v1h-2zM429 791h2v1h-2zM433 791h1v1h-1zM448 791h1v1h-1zM476 791h2v1h-2zM635 791h1v1h-1zM650 791h1v1h-1zM1106 791h1v1h-1zM1112 791h1v1h-1zM1147 791h1v1h-1zM1156 791h1v1h-1zM1177 791h2v1h-2zM1182 791h1v1h-1zM1274 791h1v1h-1zM1376 791h2v1h-2zM598 813h1v1h-1zM601 813h1v1h-1zM675 813h1v1h-1zM712 813h7v1h-7zM732 813h1v1h-1zM779 813h2v1h-2zM790 813h2v1h-2zM818 813h2v1h-2zM830 813h1v1h-1zM857 813h1v1h-1zM879 813h1v1h-1zM882 813h1v1h-1zM888 813h1v1h-1zM895 813h1v1h-1zM907 813h1v1h-1zM914 813h1v1h-1zM997 813h1v1h-1zM1034 813h1v1h-1zM1057 813h1v1h-1zM1081 813h1v1h-1zM1206 813h1v1h-1zM1226 813h1v1h-1zM1233 813h7v1h-7zM1243 813h3v1h-3zM110 787h1v1h-1zM119 787h1v1h-1zM122 787h1v1h-1zM126 787h2v1h-2zM137 787h2v1h-2zM152 787h1v1h-1zM159 787h2v1h-2zM200 787h2v1h-2zM205 787h2v1h-2zM215 787h1v1h-1zM262 787h2v1h-2zM296 787h1v1h-1zM300 787h4v1h-4zM306 787h1v1h-1zM311 787h1v1h-1zM332 787h1v1h-1zM421 787h1v1h-1zM639 787h3v1h-3zM647 787h3v1h-3zM1152 787h1v1h-1zM1162 787h1v1h-1zM1168 787h5v1h-5zM1275 787h1v1h-1zM1340 787h2v1h-2zM1345 787h1v1h-1zM1357 787h1v1h-1zM1364 787h2v1h-2zM1374 787h1v1h-1zM1385 787h2v1h-2zM597 811h1v1h-1zM602 811h1v1h-1zM674 811h1v1h-1zM734 811h1v1h-1zM776 811h1v1h-1zM793 811h2v1h-2zM798 811h3v1h-3zM808 811h1v1h-1zM814 811h2v1h-2zM832 811h1v1h-1zM847 811h2v1h-2zM853 811h3v1h-3zM880 811h1v1h-1zM895 811h1v1h-1zM904 811h1v1h-1zM917 811h1v1h-1zM995 811h1v1h-1zM999 811h1v1h-1zM1016 811h1v1h-1zM1022 811h2v1h-2zM1031 811h2v1h-2zM1058 811h1v1h-1zM1079 811h1v1h-1zM1082 811h1v1h-1zM1205 811h1v1h-1zM1227 811h1v1h-1zM1229 811h2v1h-2zM1246 811h1v1h-1zM327 778h2v1h-2zM1294 778h3v1h-3zM1312 778h1v1h-1zM321 780h2v1h-2zM329 780h1v1h-1zM1290 780h2v1h-2zM1315 780h2v1h-2zM1349 780h1v1h-1zM680 822h6v1h-6zM868 822h2v1h-2zM679 821h1v1h-1zM686 821h1v1h-1zM866 821h2v1h-2zM870 821h2v1h-2zM1300 775h2v1h-2zM1310 775h1v1h-1zM1304 773h6v1h-6zM1297 777h2v1h-2zM1311 777h1v1h-1z"/>
<text x="-2.5" y="775" font-size="12" fill="#fff" textLength="22.5" lengthAdjust="spacingAndGlyphs">477</text>
<g shape-rendering="crispEdges" fill="#e8ecf0">
<rect x="1773" y="0" width="1" height="841"/>
<rect x="0" y="661" width="1774" height="1"/>
<rect x="0" y="663" width="1774" height="1"/>
<rect x="0" y="757" width="1774" height="1"/>
<rect x="0" y="759" width="1774" height="1"/>
<rect x="1774" y="5" width="2" height="1"/>
<rect x="1774" y="54" width="2" height="1"/>
<rect x="1774" y="103" width="2" height="1"/>
<rect x="1774" y="152" width="2" height="1"/>
<rect x="1774" y="201" width="2" height="1"/>
<rect x="1774" y="250" width="2" height="1"/>
<rect x="1774" y="299" width="2" height="1"/>
<rect x="1774" y="348" width="2" height="1"/>
<rect x="1774" y="397" width="2" height="1"/>
<rect x="1774" y="446" width="2" height="1"/>
<rect x="1774" y="495" width="2" height="1"/>
<rect x="1774" y="544" width="2" height="1"/>
<rect x="1774" y="593" width="2" height="1"/>
<rect x="1774" y="642" width="2" height="1"/>
<rect x="1774" y="665" width="2" height="1"/>
<rect x="1774" y="715" width="2" height="1"/>
<rect x="1774" y="756" width="2" height="1"/>
<rect x="1774" y="761" width="2" height="1"/>
</g>
<text x="1780.5" y="10" font-size="12.5" fill="#fff">1986.40</text>
<text x="1780.5" y="59" font-size="12.5" fill="#fff">1969.30</text>
<text x="1780.5" y="108" font-size="12.5" fill="#fff">1952.20</text>
<text x="1780.5" y="157" font-size="12.5" fill="#fff">1935.40</text>
<text x="1780.5" y="206" font-size="12.5" fill="#fff">1918.30</text>
<text x="1780.5" y="255" font-size="12.5" fill="#fff">1901.50</text>
<text x="1780.5" y="304" font-size="12.5" fill="#fff">1884.40</text>
<text x="1780.5" y="353" font-size="12.5" fill="#fff">1867.60</text>
<text x="1780.5" y="402" font-size="12.5" fill="#fff">1850.50</text>
<text x="1780.5" y="451" font-size="12.5" fill="#fff">1833.70</text>
<text x="1780.5" y="500" font-size="12.5" fill="#fff">1816.60</text>
<text x="1780.5" y="549" font-size="12.5" fill="#fff">1799.50</text>
<text x="1780.5" y="598" font-size="12.5" fill="#fff">1782.70</text>
<text x="1780.5" y="647" font-size="12.5" fill="#fff">1765.60</text>
<text x="1777" y="677.5" font-size="12.5" fill="#fff">22.381</text>
<text x="1777" y="720" font-size="12.5" fill="#fff">0.00</text>
<text x="1777" y="754.5" font-size="12.5" fill="#fff">-18.118</text>
<text x="1777" y="773" font-size="12.5" fill="#fff">100</text>
<text x="1777" y="790" font-size="12.5" fill="#fff">70</text>
<text x="1777" y="822" font-size="12.5" fill="#fff">30</text>
<text x="1777" y="839" font-size="12.5" fill="#fff">0</text>
<rect x="1775" y="141" width="56" height="14" fill="#fff"/>
<text x="1780.5" y="152.5" font-size="12.5" fill="#0a1e38">1936.70</text>
</svg></body></html>
